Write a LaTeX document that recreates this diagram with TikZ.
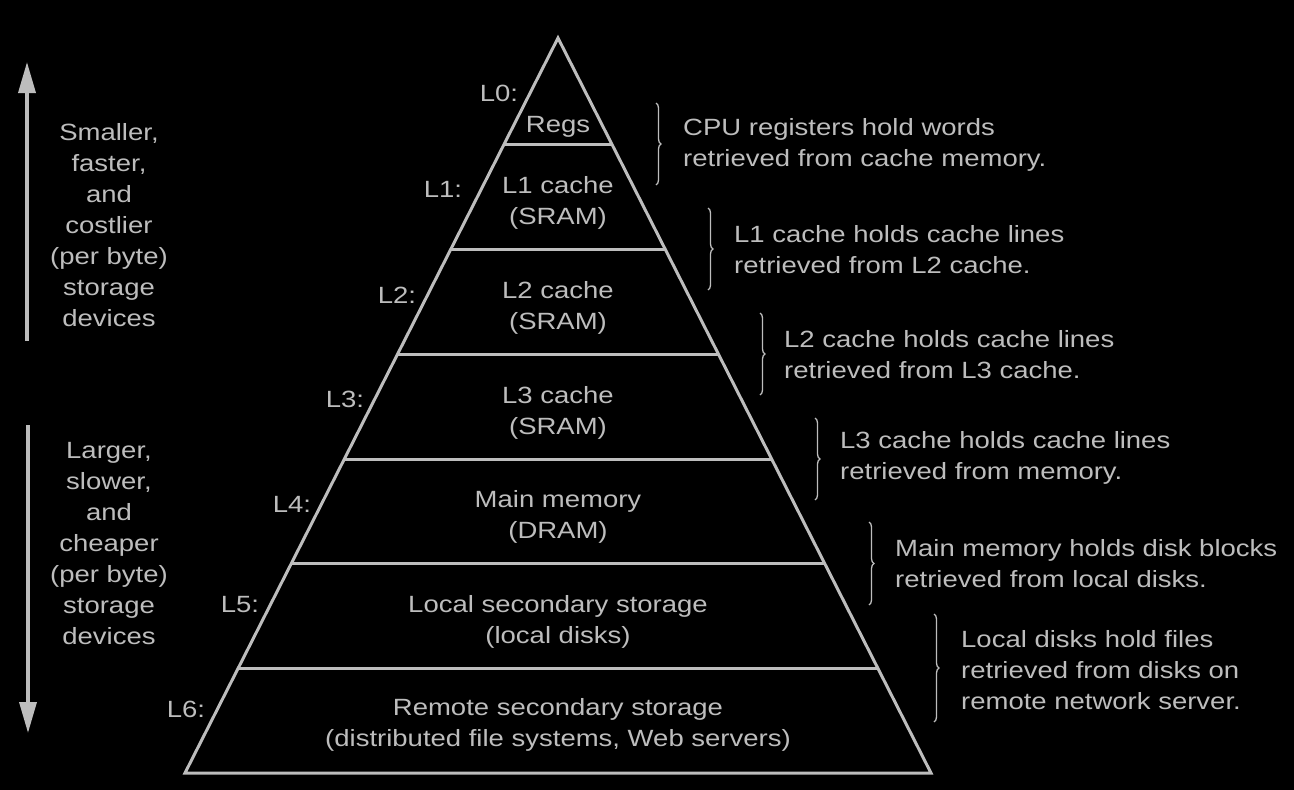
\documentclass[tikz,border=0pt]{standalone}
\usepackage{fontspec}
\setmainfont{Liberation Sans}[FakeStretch=1.17]
\usetikzlibrary{arrows.meta,decorations.pathreplacing}
\definecolor{fg}{HTML}{BDBDBD}
\begin{document}
\begin{tikzpicture}[x=1pt,y=-1pt,
  txt/.style={text=fg,font=\fontsize{23.5}{31}\selectfont,align=center,inner sep=0pt},
  rtxt/.style={txt,align=left,anchor=west},
  lvl/.style={txt},
  brc/.style={draw=fg,line width=1.3pt,decorate,decoration={brace,amplitude=5pt}},
  pyr/.style={draw=fg,line width=3pt,line join=miter},
  arr/.style={draw=fg,line width=3.5pt,-{Triangle[length=31pt,width=17pt]}}]
\fill[black] (0,0) rectangle (1294,790);
\useasboundingbox (0,0) rectangle (1294,790);
% pyramid
\coordinate (apex) at (558,38);
\coordinate (bl) at (185,773);
\coordinate (br) at (931,773);
\draw[pyr] (apex) -- (bl) -- (br) -- cycle;
\foreach \y [count=\i] in {144,249,354,459,563,668}{
  \pgfmathsetmacro{\dx}{0.5075*(\y-38)}
  \draw[pyr] ({558-\dx},\y) -- ({558+\dx},\y);
}
% level texts
\node[lvl] (r0) at (558,127) {Regs};
\node[lvl] (r1) at (558,203) {L1 cache\\(SRAM)};
\node[lvl] (r2) at (558,308) {L2 cache\\(SRAM)};
\node[lvl] (r3) at (558,413) {L3 cache\\(SRAM)};
\node[lvl] (r4) at (558,517) {Main memory\\(DRAM)};
\node[lvl] (r5) at (558,622) {Local secondary storage\\(local disks)};
\node[lvl] (r6) at (558,725) {Remote secondary storage\\(distributed file systems, Web servers)};
% level labels
\node[txt] (l0) at (499,93) {L0:};
\node[txt] (l1) at (443,189) {L1:};
\node[txt] (l2) at (397,295) {L2:};
\node[txt] (l3) at (345,399) {L3:};
\node[txt] (l4) at (292,504) {L4:};
\node[txt] (l5) at (240,605) {L5:};
\node[txt] (l6) at (186,709) {L6:};
% braces
\draw[brc] (656,103) -- (656,185);
\draw[brc] (708,208) -- (708,290);
\draw[brc] (760,313) -- (760,395);
\draw[brc] (815,418) -- (815,500);
\draw[brc] (869,522) -- (869,605);
\draw[brc] (934,614) -- (934,722);
% right texts
\node[rtxt] (d0) at (683,145) {CPU registers hold words\\retrieved from cache memory.};
\node[rtxt] (d1) at (734,250) {L1 cache holds cache lines\\retrieved from L2 cache.};
\node[rtxt] (d2) at (784,355) {L2 cache holds cache lines\\retrieved from L3 cache.};
\node[rtxt] (d3) at (840,458) {L3 cache holds cache lines\\retrieved from memory.};
\node[rtxt] (d4) at (895,564) {Main memory holds disk blocks\\retrieved from local disks.};
\node[rtxt] (d5) at (961,670) {Local disks hold files\\retrieved from disks on\\remote network server.};
% side arrows
\coordinate (ua) at (27,341);
\coordinate (ub) at (27,62);
\coordinate (da) at (28,425);
\coordinate (db) at (28,733);
\draw[arr] (ua) -- (ub);
\draw[arr] (da) -- (db);
\node[txt] (s1) at (109,225) {Smaller,\\faster,\\and\\costlier\\(per byte)\\storage\\devices};
\node[txt] (s2) at (109,544) {Larger,\\slower,\\and\\cheaper\\(per byte)\\storage\\devices};
\end{tikzpicture}
\end{document}
